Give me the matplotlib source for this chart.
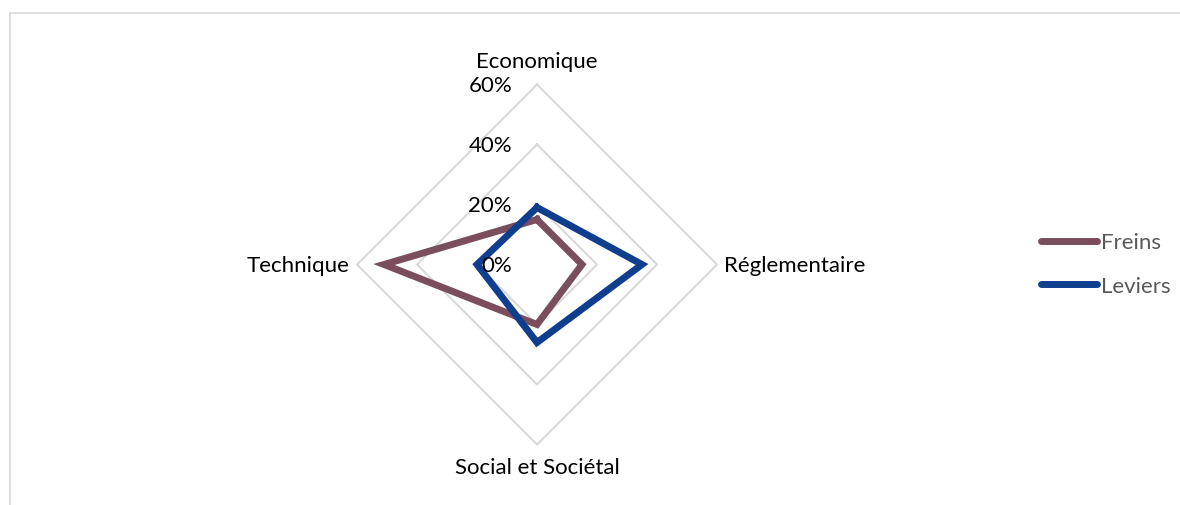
import matplotlib.pyplot as plt
from matplotlib.lines import Line2D
import numpy as np

AXES = ['Economique', 'Réglementaire', 'Social et Sociétal', 'Technique']
FREINS = [15, 15, 20, 51]
LEVIERS = [19, 35, 26, 20]
TICKS = [0, 20, 40, 60]

W, H = 1180, 506
CX, CY, PX = 537, 265.5, 3.0  # centre in pixels, pixels per percent
RED = '#7B4E5E'
BLUE = '#0F3E8F'
GRID = '#D9D9D9'
FS = 16

plt.rcParams['font.family'] = ['Lato', 'DejaVu Sans']

fig = plt.figure(figsize=(W / 100, H / 100), dpi=100)
ax = fig.add_axes([0, 0, 1, 1])
ax.set_xlim(-CX / PX, (W - CX) / PX)
ax.set_ylim(-(H - CY) / PX, CY / PX)
ax.axis('off')

# axis directions: top, right, bottom, left
ang = np.pi / 2 - np.arange(len(AXES)) * np.pi / 2
dx, dy = np.cos(ang), np.sin(ang)


def closed(vals):
    v = np.asarray(vals, float)
    x, y = v * dx, v * dy
    return np.append(x, x[0]), np.append(y, y[0])


# grid diamonds
for t in TICKS[1:]:
    gx, gy = closed([t] * 4)
    ax.plot(gx, gy, color=GRID, lw=1.5, zorder=1)

# series
for vals, col, name in [(FREINS, RED, 'Freins'), (LEVIERS, BLUE, 'Leviers')]:
    sx, sy = closed(vals)
    ax.plot(sx, sy, color=col, lw=5, label=name, zorder=3,
            solid_joinstyle='miter')

# tick labels
for t in TICKS:
    ax.text(-8.3, t, f'{t}%', ha='right', va='center', fontsize=FS,
            color='black', zorder=4)

# category labels
off = 62.5
ax.text(0, 68, AXES[0], ha='center', va='center', fontsize=FS)
ax.text(off, 0, AXES[1], ha='left', va='center', fontsize=FS)
ax.text(0, -67.5, AXES[2], ha='center', va='center', fontsize=FS)
ax.text(-off, 0, AXES[3], ha='right', va='center', fontsize=FS)

leg = ax.legend(loc='center left', bbox_to_anchor=(1021 / W, 1 - 265 / H),
                frameon=False, fontsize=FS, handlelength=2.5,
                handletextpad=0.2, labelspacing=1.05, labelcolor='#595959')
for h in leg.legend_handles:
    h.set_solid_capstyle('round')

# chart area border (top and left)
fig.add_artist(Line2D([10 / W, 1], [1 - 14 / H, 1 - 14 / H],
                      transform=fig.transFigure, color=GRID, lw=1.2))
fig.add_artist(Line2D([10 / W, 10 / W], [0, 1 - 14 / H],
                      transform=fig.transFigure, color=GRID, lw=1.2))

fig.savefig('out.png', dpi=100)
